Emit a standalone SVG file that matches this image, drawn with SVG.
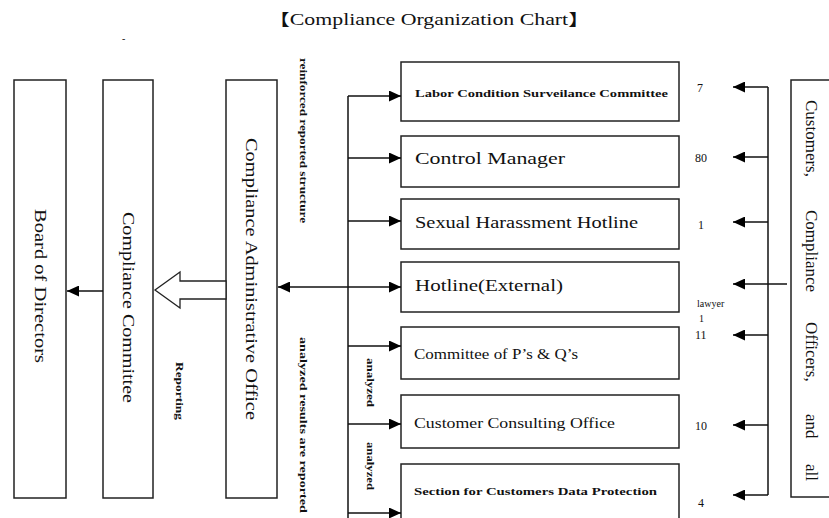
<svg xmlns="http://www.w3.org/2000/svg" width="829" height="518" viewBox="0 0 829 518">
<defs>
<marker id="ah" markerUnits="userSpaceOnUse" markerWidth="13" markerHeight="11" refX="12" refY="5.5" orient="auto">
<path d="M0,0 L12,5.5 L0,11 Z" fill="#000"/>
</marker>
<style>
.box{fill:#fff;stroke:#222;stroke-width:1.5}
.ln{fill:none;stroke:#111;stroke-width:1.5}
.t{font-family:"Liberation Serif","Noto Sans CJK JP",serif;fill:#111}
.big{font-size:17px}
.mid{font-size:14px}
.sm{font-size:11px;font-weight:bold}
.xs{font-size:10px;font-weight:bold}
.num{font-size:12px}
</style>
</defs>
<rect width="829" height="518" fill="#fff"/>
<text class="t" x="268" y="25" font-size="16" textLength="322" lengthAdjust="spacingAndGlyphs">【Compliance Organization Chart】</text>
<text class="t" x="122" y="42" font-size="10">-</text>

<g id="board">
<rect class="box" x="14" y="80" width="52" height="418"/>
<text class="t big" transform="translate(40,209) rotate(90)" dominant-baseline="central" textLength="154" lengthAdjust="spacingAndGlyphs">Board of Directors</text>
</g>
<g id="committee">
<rect class="box" x="103" y="80" width="50" height="418"/>
<text class="t big" transform="translate(128,212) rotate(90)" dominant-baseline="central" textLength="191" lengthAdjust="spacingAndGlyphs">Compliance Committee</text>
</g>
<g id="admin">
<rect class="box" x="226" y="80" width="51" height="418"/>
<text class="t big" transform="translate(251,138) rotate(90)" dominant-baseline="central" textLength="282" lengthAdjust="spacingAndGlyphs">Compliance Administrative Office</text>
</g>

<g id="b1"><rect class="box" x="401" y="62" width="278" height="59"/>
<text class="t sm" x="415" y="93" dominant-baseline="central" textLength="253" lengthAdjust="spacingAndGlyphs">Labor Condition Surveilance Committee</text></g>
<g id="b2"><rect class="box" x="401" y="136" width="278" height="51"/>
<text class="t big" x="415" y="158" dominant-baseline="central" textLength="150" lengthAdjust="spacingAndGlyphs">Control Manager</text></g>
<g id="b3"><rect class="box" x="401" y="199" width="278" height="50"/>
<text class="t big" x="415" y="222" dominant-baseline="central" textLength="223" lengthAdjust="spacingAndGlyphs">Sexual Harassment Hotline</text></g>
<g id="b4"><rect class="box" x="401" y="262" width="278" height="50"/>
<text class="t big" x="415" y="285" dominant-baseline="central" textLength="148" lengthAdjust="spacingAndGlyphs">Hotline(External)</text></g>
<g id="b5"><rect class="box" x="401" y="327" width="278" height="52"/>
<text class="t mid" x="414" y="354" dominant-baseline="central" textLength="164" lengthAdjust="spacingAndGlyphs">Committee of P’s &amp; Q’s</text></g>
<g id="b6"><rect class="box" x="401" y="395" width="278" height="53"/>
<text class="t mid" x="414" y="423" dominant-baseline="central" textLength="201" lengthAdjust="spacingAndGlyphs">Customer Consulting Office</text></g>
<g id="b7"><rect class="box" x="401" y="464" width="278" height="70"/>
<text class="t sm" x="414" y="491" dominant-baseline="central" textLength="243" lengthAdjust="spacingAndGlyphs">Section for Customers Data Protection</text></g>

<g id="stakeholders">
<rect class="box" x="791" y="80" width="60" height="417"/>
<text class="t big" transform="translate(812,0) rotate(90)" dominant-baseline="central"><tspan x="100">Customers,</tspan><tspan x="210">Compliance</tspan><tspan x="322">Officers,</tspan><tspan x="414">and</tspan><tspan x="464">all</tspan></text>
</g>

<g id="connectors">
<line class="ln" x1="103" y1="291" x2="67" y2="291" marker-end="url(#ah)"/>
<polygon points="226,281 180,281 180,272 155,290 180,308 180,299 226,299" fill="#fff" stroke="#222" stroke-width="1.3"/>
<line class="ln" x1="348" y1="287" x2="278" y2="287" marker-end="url(#ah)"/>
<line class="ln" x1="348" y1="96" x2="348" y2="518"/>
<line class="ln" x1="348" y1="96" x2="401" y2="96" marker-end="url(#ah)"/>
<line class="ln" x1="348" y1="158" x2="401" y2="158" marker-end="url(#ah)"/>
<line class="ln" x1="348" y1="221" x2="401" y2="221" marker-end="url(#ah)"/>
<line class="ln" x1="348" y1="287" x2="401" y2="287" marker-end="url(#ah)"/>
<line class="ln" x1="348" y1="346" x2="401" y2="346" marker-end="url(#ah)"/>
<line class="ln" x1="348" y1="424" x2="401" y2="424" marker-end="url(#ah)"/>
<line class="ln" x1="348" y1="513" x2="401" y2="513" marker-end="url(#ah)"/>
<line class="ln" x1="768" y1="87" x2="768" y2="495"/>
<line class="ln" x1="768" y1="87" x2="733" y2="87" marker-end="url(#ah)"/>
<line class="ln" x1="768" y1="157" x2="733" y2="157" marker-end="url(#ah)"/>
<line class="ln" x1="768" y1="222" x2="733" y2="222" marker-end="url(#ah)"/>
<line class="ln" x1="787" y1="284" x2="733" y2="284" marker-end="url(#ah)"/>
<line class="ln" x1="768" y1="335" x2="733" y2="335" marker-end="url(#ah)"/>
<line class="ln" x1="768" y1="425" x2="733" y2="425" marker-end="url(#ah)"/>
<line class="ln" x1="768" y1="495" x2="733" y2="495" marker-end="url(#ah)"/>
</g>

<g id="labels">
<text class="t sm" transform="translate(180,362) rotate(90)" dominant-baseline="central" textLength="58" lengthAdjust="spacingAndGlyphs">Reporting</text>
<text class="t xs" transform="translate(303,58) rotate(90)" dominant-baseline="central" textLength="165" lengthAdjust="spacingAndGlyphs">reinforced reported structure</text>
<text class="t xs" transform="translate(303,337) rotate(90)" dominant-baseline="central" textLength="176" lengthAdjust="spacingAndGlyphs">analyzed results are reported</text>
<text class="t xs" transform="translate(370,358) rotate(90)" dominant-baseline="central" textLength="49" lengthAdjust="spacingAndGlyphs">analyzed</text>
<text class="t xs" transform="translate(370,442) rotate(90)" dominant-baseline="central" textLength="48" lengthAdjust="spacingAndGlyphs">analyzed</text>
<text class="t num" x="697" y="88" dominant-baseline="central">7</text>
<text class="t num" x="695" y="158" dominant-baseline="central">80</text>
<text class="t num" x="698" y="225" dominant-baseline="central">1</text>
<text class="t" x="697" y="303" font-size="10" dominant-baseline="central">lawyer</text>
<text class="t" x="699" y="318" font-size="10" dominant-baseline="central">1</text>
<text class="t num" x="695" y="335" dominant-baseline="central">11</text>
<text class="t num" x="695" y="426" dominant-baseline="central">10</text>
<text class="t num" x="698" y="503" dominant-baseline="central">4</text>
</g>
</svg>
